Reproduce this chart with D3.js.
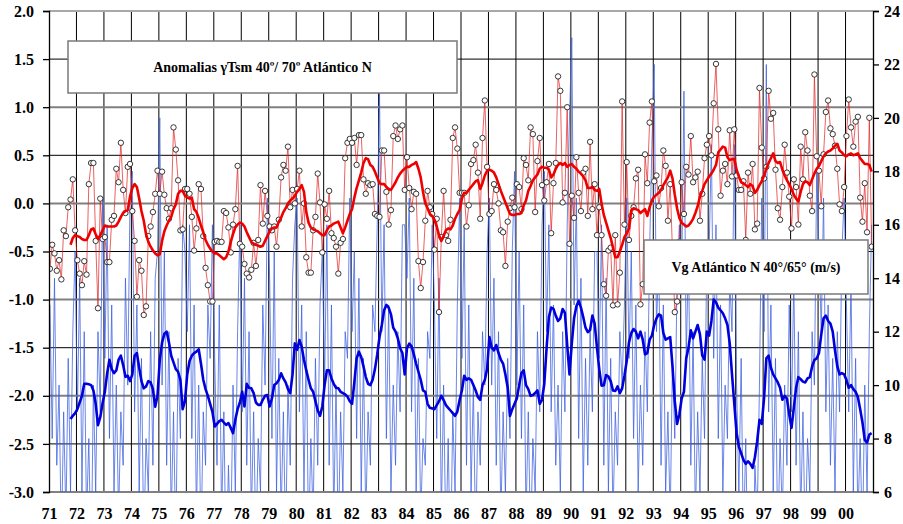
<!DOCTYPE html>
<html>
<head>
<meta charset="utf-8">
<script src="https://cdn.jsdelivr.net/npm/d3@7/dist/d3.min.js"></script>
<style>
  body { margin: 0; background: #fff; }
  svg { display: block; }
  .tick text { font-family: "Liberation Serif", "Times New Roman", serif; font-weight: bold; font-size: 16px; fill: #000; }
</style>
</head>
<body>
<svg id="chart"></svg>
<script>
// Anomalías Tsm (izq.) y Vg (der.), mensual 1971-2000

const yearLabels = ['71','72','73','74','75','76','77','78','79','80','81','82','83','84','85',
                    '86','87','88','89','90','91','92','93','94','95','96','97','98','99','00'];
const leftTicks = [-3.0, -2.5, -2.0, -1.5, -1.0, -0.5, 0.0, 0.5, 1.0, 1.5, 2.0];
const rightTicks = [6, 8, 10, 12, 14, 16, 18, 20, 22, 24];

// anomalías mensuales (ene 1971 .. dic 2000)
const tsmMonthly = [
  -0.68,-0.43,-0.52,-0.70,-0.59,-0.79,-0.28,-0.34,-0.04, 0.04, 0.25,-0.28,
  -0.59,-0.73,-0.85,-0.60,-0.74, 0.20, 0.42, 0.42,-0.39,-1.09, 0.05,-0.37,
  -0.35,-0.61,-0.61,-0.17,-0.13, 0.36, 0.22, 0.63, 0.14,-0.10, 0.38, 0.41,
  -0.08,-0.39,-0.97,-0.59,-0.70,-1.16,-1.07,-0.34,-0.24,-0.09, 0.10, 0.34,
   0.10, 0.33, 0.09,-0.05,-0.16,-0.05, 0.79, 0.56, 0.24,-0.28,-0.27, 0.15,
   0.15, 0.10,-0.14,-0.49,-0.26, 0.20, 0.15,-0.34,-0.67,-0.85,-1.02,-1.02,
  -0.40,-0.39,-0.40,-0.40,-0.08,-0.10,-0.25,-0.51,-0.22,-0.06, 0.39,-0.42,
  -0.45,-0.63,-0.73,-0.77,-0.69,-0.41,-0.65,-0.38, 0.19,-0.21, 0.13,-0.13,
  -0.24,-0.28,-0.24,-0.45,-0.17, 0.27, 0.40, 0.34, 0.59,-0.04, 0.14, 0.00,
   0.15, 0.34,-0.24, 0.00,-0.56,-0.72,-0.72,-0.28,-0.14, 0.31, 0.01,-0.51,
  -0.01,-0.16, 0.13,-0.31,-0.36,-0.45,-0.73,-0.41,-0.37, 0.47, 0.63, 0.67,
   0.63, 0.68, 0.40, 0.71, 0.71, 0.25, 0.10, 0.21, 0.19, 0.20,-0.11,-0.13,
  -0.14, 0.55, 0.55, 0.12,-0.22,-0.07, 0.70, 0.81, 0.67, 0.77, 0.81, 0.14,
   0.48, 0.16,-0.06, 0.12, 0.10,-0.60,-0.88,-0.61,-0.18, 0.13,-0.04,-0.11,
  -0.48,-0.16,-1.13,-0.35, 0.13,-0.33,-0.39,-0.17, 0.68, 0.79, 0.57, 0.11,
   0.11, 0.11,-0.24,-0.02, 0.41, 0.45, 0.61, 0.32,-0.16, 0.68, 1.07, 0.38,
  -0.11,-0.08, 0.20, 0.14, 0.00,-0.28,-0.30,-0.65,-0.19,-0.05, 0.06,-0.04,
   0.20, 0.17,-0.06, 0.47, 0.40, 0.24, 0.79, 0.72,-0.09, 0.44, 0.68, 0.19,
   0.03, 0.22, 0.41,-0.31, 0.21, 0.42, 1.32, 1.17, 0.01, 0.11, 1.00,-0.42,
   0.08,-0.15, 0.48, 0.11,-0.08, 0.32, 0.36,-0.13, 0.64,-0.06, 0.20,-0.33,
  -0.04,-0.33,-0.84,-0.96,-0.49,-0.46,-1.06,-0.33,-1.05,-0.72, 1.06,-0.22,
   0.43,-0.38,-0.13,-0.04, 0.26, 0.35,-1.05,-0.84, 0.51, 0.21, 0.84, 1.06,
   0.23, 0.29,-0.03, 0.16, 0.55, 0.39,-0.18, 0.20,-0.50,-1.13,-1.02,-0.40,
   0.22,-0.11, 0.38, 0.30, 0.70, 0.22, 0.27, 0.33,-0.18, 0.10, 0.47, 0.61,
   0.70, 0.50, 1.04, 1.45, 0.77, 0.08, 0.34, 0.41, 0.20, 0.76, 0.28, 0.77,
   0.29, 0.14, 0.14, 0.23,-0.38, 0.32, 0.10, 0.41,-0.27,-0.21, 1.20, 0.58,
   0.26, 0.38, 1.17, 0.88, 0.94, 0.35,-0.05,-0.17, 0.17, 0.61, 0.32, 0.07,
  -0.26, 0.25, 0.17,-0.22, 0.59, 0.25, 0.74, 0.55, 0.08,-0.08, 1.34, 0.49,
   0.34,-0.03, 0.51, 0.95, 1.07, 0.78, 0.72, 0.60, 0.36,-0.01,-0.08, 0.17,
   0.70, 1.08, 0.79, 0.59, 0.85, 0.90, 0.06,-0.19, 0.21,-0.30, 0.89,-0.45
];

// media móvil de las anomalías, desde oct 1971
const tsmSmoothStart = 9;
const tsmSmooth = [
  -0.43,-0.36,-0.33,
  -0.34,-0.35,-0.37,-0.38,-0.38,-0.33,-0.27,-0.26,-0.32,-0.37,-0.33,-0.28,
  -0.23,-0.24,-0.24,-0.24,-0.24,-0.23,-0.19,-0.14,-0.10,-0.08,-0.07, 0.07,
   0.16, 0.20, 0.17, 0.05,-0.08,-0.18,-0.32,-0.40,-0.45,-0.49,-0.52,-0.54,
  -0.53,-0.39,-0.29,-0.23,-0.18,-0.14,-0.06,-0.01, 0.10, 0.13, 0.13, 0.08,
   0.06, 0.05, 0.06,-0.06,-0.09,-0.15,-0.23,-0.30,-0.38,-0.43,-0.47,-0.50,
  -0.52,-0.52,-0.54,-0.56,-0.58,-0.56,-0.50,-0.40,-0.32,-0.25,-0.22,-0.20,
  -0.21,-0.24,-0.30,-0.35,-0.40,-0.42,-0.43,-0.44,-0.45,-0.44,-0.39,-0.34,
  -0.29,-0.26,-0.25,-0.25,-0.19,-0.15,-0.09,-0.05, 0.00, 0.03, 0.05, 0.08,
   0.12, 0.15, 0.19, 0.12,-0.09,-0.20,-0.25,-0.27,-0.28,-0.29,-0.31,-0.33,
  -0.33,-0.28,-0.24,-0.23,-0.21,-0.20,-0.19,-0.25,-0.31,-0.25,-0.18,-0.11,
  -0.06, 0.06, 0.16, 0.24, 0.32, 0.42, 0.47, 0.46, 0.40, 0.38, 0.33, 0.27,
   0.21, 0.20, 0.20, 0.17, 0.15, 0.14, 0.18, 0.22, 0.27, 0.31, 0.34, 0.36,
   0.38, 0.38, 0.40, 0.41, 0.43, 0.36, 0.27, 0.12, 0.00,-0.05,-0.11,-0.13,
  -0.17,-0.24,-0.33,-0.39,-0.34,-0.28,-0.26,-0.27,-0.23,-0.16,-0.11,-0.07,
   0.05, 0.11, 0.11, 0.14, 0.17, 0.20, 0.23, 0.24, 0.15, 0.21, 0.29, 0.34,
   0.35, 0.34, 0.32, 0.27, 0.20, 0.13, 0.07, 0.01,-0.05,-0.11,-0.12,-0.12,
  -0.11,-0.11,-0.10,-0.02, 0.03, 0.13, 0.18, 0.24, 0.27, 0.30, 0.36, 0.38,
   0.37, 0.37, 0.35, 0.27, 0.30, 0.36, 0.40, 0.42, 0.40, 0.42, 0.38, 0.40,
   0.41, 0.38, 0.36, 0.33, 0.31, 0.28, 0.24, 0.16, 0.16, 0.17, 0.14, 0.13,
   0.15, 0.00,-0.12,-0.20,-0.28,-0.36,-0.46,-0.56,-0.56,-0.50,-0.43,-0.35,
  -0.31,-0.26,-0.07,-0.05,-0.06,-0.07,-0.10,-0.08,-0.06,-0.13,-0.04, 0.03,
   0.07, 0.09, 0.11, 0.14, 0.19, 0.23, 0.27, 0.34, 0.26, 0.09,-0.05,-0.15,
  -0.20,-0.22,-0.24,-0.23,-0.20,-0.16,-0.10,-0.03, 0.07, 0.13, 0.20, 0.24,
   0.28, 0.31, 0.35, 0.40, 0.53, 0.56, 0.59, 0.58, 0.48, 0.45, 0.46, 0.46,
   0.35, 0.28, 0.22, 0.21, 0.19, 0.17, 0.20, 0.18, 0.11, 0.14, 0.19, 0.23,
   0.29, 0.36, 0.42, 0.47, 0.52, 0.44, 0.42, 0.43, 0.35, 0.29, 0.24, 0.20,
   0.15, 0.09, 0.05, 0.02, 0.12, 0.20, 0.23, 0.22, 0.19, 0.25, 0.31, 0.36,
   0.39, 0.44, 0.49, 0.52, 0.54, 0.55, 0.57, 0.60, 0.62, 0.55, 0.53, 0.50,
   0.49, 0.51, 0.52, 0.50, 0.51, 0.52, 0.47, 0.44, 0.41, 0.41, 0.40, 0.33
];

// Vg mensual (m/s), ene 1971 .. dic 2000
const vgMonthly = [
  13, 8,14, 7,10, 4, 9, 5,11, 6,12,15,
   9,14, 6,12, 5, 8, 3,10, 6,12, 9,17,
  11,16, 8,13, 6,10, 5, 9, 7,14,10,17,
  18, 9,13, 6,11, 4, 8, 6,12, 7,14,15,
  20,10,15, 7,12, 5, 9, 4,11, 8,16,15,
  12,16, 8,13, 5,10, 4, 9, 7,13,11,16,
  11, 7,13, 5, 9, 3, 7, 4,10, 6,12,16,
   9,14, 7,12, 5, 9, 4, 8, 6,13,10,17,
  14, 8,15, 6,11, 5, 9, 4,10, 7,14,16,
  17, 9,13, 6,12, 4, 8, 5,11, 7,13,15,
  10,16, 7,13, 5,10, 4, 9, 6,12,11,17,
  12,15, 8,14, 6,11, 5, 9, 7,13,12,16,
  21,12,16, 8,13, 6,10, 7,12, 9,16,16,
  14,17, 9,14, 6,11, 5, 8, 7,12,11,16,
  13, 8,14, 5,10, 4, 8, 3, 9, 6,13,17,
  11,16, 7,13, 6,10, 4, 9, 7,12,10,15,
  17,10,14, 7,12, 5, 9, 6,11, 8,15,18,
  10,15, 8,13, 5, 9, 4, 8, 6,12, 9,16,
  18,12,16, 9,13, 7,10, 6,12, 9,16,20,
  23,13,17, 8,14, 6,11, 7,12, 9,15,15,
  11,16, 7,14, 6,11, 5, 9, 7,12,10,13,
  17,11,15, 8,13, 6,10, 7,12, 9,15,19,
  22,12,15, 7,13, 6, 9, 5,11, 8,14,16,
  14,21,11,15, 7,12, 5, 9, 6,11, 8,15,
  15,19,11,16, 8,13, 6,10, 8,14,12,19,
  10, 6,11, 4, 8, 3, 6, 2, 7, 5,10,17,
  12,22, 9,13, 6,11, 4, 8, 5,10, 7,13,
   9,14, 7,12, 5, 9, 4, 8, 6,12,10,18,
  15,12,17, 9,13, 7,11, 6,12, 9,15,17,
  13, 9,14, 6,11, 5, 8, 4,10, 6,12,16
];

// media móvil de Vg, desde oct 1971
const vgSmoothStart = 9;
const vgSmooth = [
   8.73, 8.85, 8.95,
   9.10, 9.35, 9.60,10.05,10.05,10.03,10.00, 9.80, 9.30, 8.50, 8.80, 9.32,
   9.75,10.44,10.95,10.60,10.45,10.55,10.95,11.10,10.75,10.31,10.35,10.15,
  10.40,11.10,11.20,10.65,10.15, 9.88, 9.95,10.15,10.10, 9.85, 9.19, 9.60,
  10.94,11.60,11.92,12.00,11.60,11.10,10.85,10.60,10.50,10.20, 9.10, 9.40,
  10.40,10.90,11.10,11.20,11.25,11.34,10.80,10.20, 9.85, 9.60, 9.30, 9.00,
   8.45, 8.55, 8.65, 8.70, 8.60, 8.51, 8.58, 8.40, 8.20, 8.70, 9.10, 9.35,
   9.75, 9.20,10.05, 9.90, 9.88, 9.70, 9.35, 9.26, 9.26, 9.45, 9.60, 9.63,
   9.20, 9.50,10.00,10.07,10.19,10.44,10.25,10.10, 9.85, 9.70,10.40,11.56,
  11.32,11.69,11.44,10.94,10.55,10.20, 9.88, 9.75, 9.40, 9.05, 8.85, 9.20,
  10.00,10.55,10.55,10.25,10.05, 9.90, 9.88, 9.75, 9.70, 9.65, 9.57, 9.40,
   9.30,10.10,11.00,11.25,11.05,10.70,10.30,10.05,10.00,10.20,10.60,11.15,
  11.80,12.25,12.80,13.00,12.90,12.65,12.15,12.00,11.75,11.38,11.20,10.40,
  11.38,11.55,11.45,11.15,10.80,10.50,10.20, 9.80, 9.75, 9.30, 9.15, 9.13,
   9.10, 9.25, 9.40, 9.60, 9.44, 9.25, 9.15, 9.05, 8.95, 8.85, 9.01, 9.44,
   9.80,10.35,10.20,10.25,10.20,10.00, 9.80, 9.55, 9.45,10.00,10.19,10.60,
  11.80,11.40,11.30,11.50,11.20,10.95,10.80,10.40, 9.90, 8.85, 9.10, 9.30,
   9.50,10.00,10.45,10.55,10.00, 9.85, 9.60, 9.63, 9.70, 9.80, 9.30, 9.45,
  10.05,11.40,12.55,12.90,12.85,12.60,12.40,12.50,12.85,12.70,11.50,10.40,
  11.55,12.50,12.95,13.15,12.90,12.55,12.15,11.98,12.06,12.60,12.30,11.40,
  10.60, 9.98,10.00,10.38,10.32,10.15, 9.80, 9.78, 9.95, 9.70, 9.88,10.35,
  10.90,11.60,11.95,12.10,12.00,11.75,12.00,11.70,11.15,11.20,11.70,11.85,
  12.25,12.50,12.65,12.60,11.95,11.70,11.75,11.80,10.70, 9.40, 8.55, 8.90,
   9.50, 9.75,11.00,11.40,12.05,11.75,12.00,12.25,11.90,11.10,10.95,12.00,
  11.85,12.40,13.20,13.10,12.90,12.80,12.69,12.50,12.25,11.56,10.40, 9.30,
   8.20, 7.70, 7.45, 7.20, 7.05, 7.15, 7.05, 6.90, 7.30, 7.90, 8.70, 8.55,
   9.50,11.00,11.10,10.65,10.40,10.25,10.10, 9.90, 9.45, 9.60, 9.50, 8.90,
   8.40, 9.15, 9.90,10.30,10.22,10.13,10.10,10.25,10.30,10.70,10.94,11.00,
  11.20,11.90,12.50,12.60,12.40,12.30,12.00,11.30,10.70,10.40,10.45,10.40,
  10.19, 9.90,10.00, 9.85, 9.75, 9.55, 9.10, 8.60, 7.95, 7.85, 8.15, 8.20
];

const W = 903, H = 524;
const L = 49, R = 873, T = 11, B = 492;
const firstYear = 1971;

const svg = d3.select('#chart').attr('width', W).attr('height', H);

const x = d3.scaleLinear().domain([1971, 2001]).range([L, R]);
const yL = d3.scaleLinear().domain([-3, 2]).range([B, T]);
const yR = d3.scaleLinear().domain([6, 24]).range([B, T]);
const monthX = i => x(firstYear + (i + 0.4) / 12);

svg.append('defs').append('clipPath').attr('id', 'plotClip')
  .append('rect').attr('x', L).attr('y', T).attr('width', R - L).attr('height', B - T);

// rejilla vertical (años)
svg.append('g').selectAll('line')
  .data(d3.range(1972, 2001))
  .join('line')
  .attr('x1', d => x(d)).attr('x2', d => x(d))
  .attr('y1', T).attr('y2', B)
  .attr('stroke', '#000').attr('stroke-width', 1);

// rejilla horizontal: gris en enteros, negra en medios
svg.append('g').selectAll('line')
  .data(leftTicks)
  .join('line')
  .attr('x1', L).attr('x2', R)
  .attr('y1', d => yL(d)).attr('y2', d => yL(d))
  .attr('stroke', d => Number.isInteger(d) ? (d === 2 ? '#a8a8a8' : '#808080') : '#000')
  .attr('stroke-width', d => Number.isInteger(d) ? 2 : 1);

const plot = svg.append('g').attr('clip-path', 'url(#plotClip)');

// Vg mensual (fina)
plot.append('path')
  .datum(vgMonthly)
  .attr('fill', 'none')
  .attr('stroke', '#3a5ee0')
  .attr('stroke-opacity', 0.75)
  .attr('stroke-width', 1)
  .attr('d', d3.line().x((d, i) => monthX(i)).y(d => yR(d)));

// anomalías mensuales
plot.append('path')
  .datum(tsmMonthly)
  .attr('fill', 'none')
  .attr('stroke', '#e02020')
  .attr('stroke-opacity', 0.7)
  .attr('stroke-width', 1)
  .attr('d', d3.line().x((d, i) => monthX(i)).y(d => yL(d)));

plot.append('g').selectAll('circle')
  .data(tsmMonthly)
  .join('circle')
  .attr('cx', (d, i) => monthX(i))
  .attr('cy', d => yL(d))
  .attr('r', 2.7)
  .attr('fill', '#fff')
  .attr('stroke', '#222')
  .attr('stroke-width', 0.9);

// medias móviles
plot.append('path')
  .datum(tsmSmooth)
  .attr('fill', 'none')
  .attr('stroke', '#ee0000')
  .attr('stroke-width', 2.6)
  .attr('stroke-linejoin', 'round')
  .attr('d', d3.line().x((d, i) => monthX(i + tsmSmoothStart)).y(d => yL(d)));

plot.append('path')
  .datum(vgSmooth)
  .attr('fill', 'none')
  .attr('stroke', '#0000dd')
  .attr('stroke-width', 2.6)
  .attr('stroke-linejoin', 'round')
  .attr('d', d3.line().x((d, i) => monthX(i + vgSmoothStart)).y(d => yR(d)));

// ejes
const axL = svg.append('g').attr('transform', `translate(${L},0)`)
  .call(d3.axisLeft(yL).tickValues(leftTicks).tickFormat(d => d.toFixed(1)).tickSize(6).tickPadding(9));
const axR = svg.append('g').attr('transform', `translate(${R},0)`)
  .call(d3.axisRight(yR).tickValues(rightTicks).tickFormat(d => String(d)).tickSize(6).tickPadding(5));
const axB = svg.append('g').attr('transform', `translate(0,${B})`)
  .call(d3.axisBottom(x).tickValues(d3.range(1971, 2001)).tickFormat((d, i) => yearLabels[i]).tickSize(0).tickPadding(16));
[axL, axR].forEach(a => {
  a.select('.domain').attr('stroke', '#000').attr('stroke-width', 1.3);
  a.selectAll('.tick line').attr('stroke', '#000').attr('stroke-width', 1.3);
});
axB.select('.domain').remove();

// leyendas
function legendBox(bx, by, bw, bh, label) {
  const g = svg.append('g');
  g.append('rect')
    .attr('x', bx).attr('y', by).attr('width', bw).attr('height', bh)
    .attr('fill', '#fff').attr('stroke', '#7a7a7a').attr('stroke-width', 1.5);
  g.append('text')
    .attr('x', bx + bw / 2).attr('y', by + bh / 2 + 5)
    .attr('text-anchor', 'middle')
    .attr('font-family', '"Liberation Serif", "Times New Roman", serif')
    .attr('font-weight', 'bold')
    .attr('font-size', '14px')
    .text(label);
}
legendBox(68, 41, 389, 52, 'Anomalias \u03b3Tsm 40\u00ba/ 70\u00ba Atl\u00e1ntico N');
legendBox(644, 240, 224, 54, 'Vg Atl\u00e1ntico N 40\u00b0/65\u00b0 (m/s)');
</script>
</body>
</html>
